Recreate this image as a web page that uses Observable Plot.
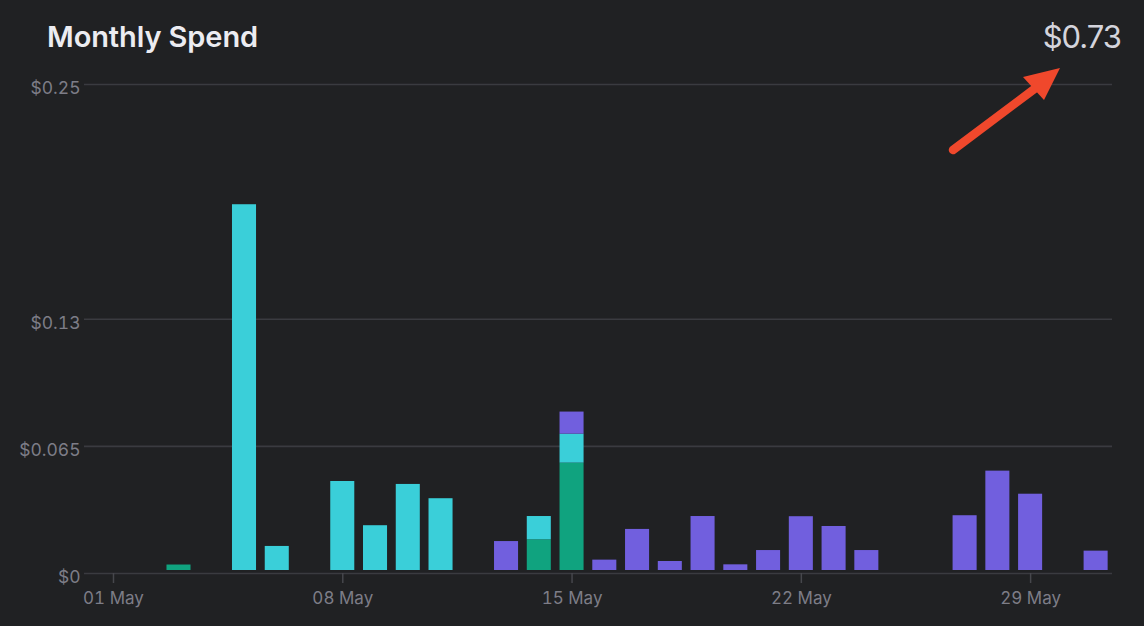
<!DOCTYPE html>
<html>
<head>
<meta charset="utf-8">
<script src="https://cdn.jsdelivr.net/npm/d3@7"></script>
<script src="https://cdn.jsdelivr.net/npm/@observablehq/plot@0.6"></script>
<style>
  html, body { margin: 0; padding: 0; background: #202123; width: 1144px; height: 626px; overflow: hidden; font-family: Inter, "Noto Sans", sans-serif; }
  #wrap { position: relative; width: 1144px; height: 626px; }
  #header { position: relative; height: 70px; }
  #title { position: absolute; left: 47px; top: 19px; font-size: 29px; font-weight: 600; color: #ececf1; letter-spacing: -0.1px; }
  #total { position: absolute; right: 23px; top: 18px; font-size: 31px; font-weight: 400; color: #d4d4dc; letter-spacing: -1px; }
  #chart svg { display: block; }
  #arrow { position: absolute; left: 0; top: 0; pointer-events: none; }
</style>
</head>
<body>
<div id="wrap">
  <div id="header">
    <div id="title">Monthly Spend</div>
    <div id="total"></div>
  </div>
  <div id="chart"></div>
  <svg id="arrow" width="1144" height="626">
    <line x1="953" y1="150" x2="1037" y2="87" stroke="#f0482c" stroke-width="8.5" stroke-linecap="round"/>
    <polygon points="1060,68 1023,77 1044,100" fill="#f0482c"/>
  </svg>
</div>
<script>
// ---- data ----
const year = 2023, month = 4; // May (0-based month)
const dayNumbers = d3.range(1, 32);
const seriesNames = ["Series A", "Series B", "Series C"];
const seriesColors = ["#10a37f", "#3acfd9", "#715fde"];
const seriesA = [0,0,0.0028,0,0,0,0,0,0,0,0,0,0,0.0157,0.0549,0,0,0,0,0,0,0,0,0,0,0,0,0,0,0,0];
const seriesB = [0,0,0,0,0.187,0.0123,0,0.0455,0.0229,0.044,0.0367,0,0,0.0119,0.0148,0,0,0,0,0,0,0,0,0,0,0,0,0,0,0,0];
const seriesC = [0,0,0,0,0,0,0,0,0,0,0,0,0.0148,0,0.0113,0.0053,0.021,0.0046,0.0276,0.0029,0.0102,0.0275,0.0225,0.0102,0,0,0.028,0.0508,0.039,0,0.0099];
const yTicks = [0, 0.065, 0.13, 0.25];
const yTickLabels = ["$0", "$0.065", "$0.13", "$0.25"];
const xTickDays = [1, 8, 15, 22, 29];

// ---- build table ----
const seriesValues = [seriesA, seriesB, seriesC];
const rows = [];
seriesValues.forEach((vals, si) => {
  vals.forEach((v, i) => {
    if (v > 0) rows.push({day: dayNumbers[i], date: new Date(Date.UTC(year, month, dayNumbers[i])), series: seriesNames[si], value: v});
  });
});
const DAY = 864e5;
const halfBar = 0.367 * DAY;
const xTicks = xTickDays.map(d => new Date(Date.UTC(year, month, d)));
const xDomain = [new Date(Date.UTC(year, month, 1) - 0.885 * DAY), new Date(Date.UTC(year, month, 31) + 0.5 * DAY)];

document.getElementById("total").textContent = "$" + d3.sum(rows, d => d.value).toFixed(2);

const chart = Plot.plot({
  width: 1144,
  height: 556,
  marginTop: 14,
  marginBottom: 53,
  marginLeft: 84,
  marginRight: 32,
  style: {background: "transparent", color: "#80808a", fontFamily: "Inter, 'Noto Sans', sans-serif", fontSize: "17px"},
  x: {type: "utc", domain: xDomain, label: null},
  y: {domain: [0, 0.25], label: null},
  color: {domain: seriesNames, range: seriesColors},
  marks: [
    Plot.gridY(yTicks, {stroke: "#3a3b40", strokeOpacity: 1, strokeWidth: 1.6}),
    Plot.rectY(rows, Plot.stackY({
      x: "day",
      x1: d => new Date(+d.date - halfBar),
      x2: d => new Date(+d.date + halfBar),
      y: "value",
      fill: "series",
      order: seriesNames,
      dy: -3
    })),
    Plot.axisY(yTicks, {label: null, tickSize: 0, tickPadding: 4, tickFormat: d => yTickLabels[yTicks.indexOf(d)], fill: "#7d7d87", dy: 4, fontSize: 17.5}),
    Plot.axisX(xTicks, {label: null, tickSize: 10, tickPadding: 8, tickFormat: d3.utcFormat("%d %b"), stroke: "#46474c", strokeWidth: 1.5, fill: "#7d7d87", fontSize: 17})
  ]
});
document.getElementById("chart").appendChild(chart);
</script>
</body>
</html>
